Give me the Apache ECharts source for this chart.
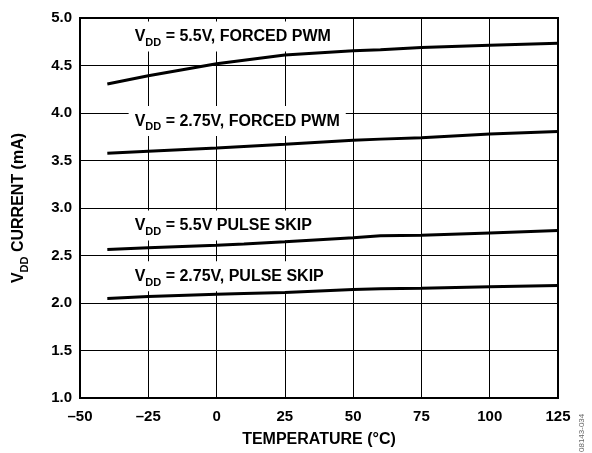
<!DOCTYPE html>
<html>
<head>
<meta charset="utf-8">
<script src="https://cdn.jsdelivr.net/npm/echarts@6/dist/echarts.min.js"></script>
<style>html,body{margin:0;padding:0;background:#fff;}#c{width:592px;height:453px;}</style>
</head>
<body>
<div id="c"></div>
<script>
var temperature = [-40, -25, 0, 10, 25, 50, 60, 75, 100, 125];
var pwm55 = [4.306, 4.393, 4.518, 4.555, 4.61, 4.655, 4.665, 4.69, 4.714, 4.735];
var pwm275 = [3.576, 3.597, 3.632, 3.647, 3.670, 3.712, 3.725, 3.740, 3.778, 3.806];
var skip55 = [2.563, 2.581, 2.609, 2.622, 2.644, 2.686, 2.707, 2.714, 2.738, 2.762];
var skip275 = [2.047, 2.068, 2.092, 2.100, 2.110, 2.141, 2.150, 2.155, 2.172, 2.185];
var seriesNames = ['VDD = 5.5V, FORCED PWM', 'VDD = 2.75V, FORCED PWM', 'VDD = 5.5V PULSE SKIP', 'VDD = 2.75V, PULSE SKIP'];
var labelTexts = [' = 5.5V, FORCED PWM', ' = 2.75V, FORCED PWM', ' = 5.5V PULSE SKIP', ' = 2.75V, PULSE SKIP'];
var labelAnchorX = [-30, -30, -30, -30];
var labelAnchorY = [4.815, 3.927, 2.827, 2.293];
var xTickLabels = {'-50': '\u201350', '-25': '\u201325', '0': '0', '25': '25', '50': '50', '75': '75', '100': '100', '125': '125'};
var yTickLabels = {'1': '1.0', '1.5': '1.5', '2': '2.0', '2.5': '2.5', '3': '3.0', '3.5': '3.5', '4': '4.0', '4.5': '4.5', '5': '5.0'};

var FONT = "'Liberation Sans', Arial, Helvetica, sans-serif";
function pairs(ys) { return temperature.map(function (t, i) { return [t, ys[i]]; }); }
var richStyle = {
  b: {fontSize: 16, fontWeight: 'bold', fontFamily: FONT, color: '#000'},
  s: {fontSize: 11, fontWeight: 'bold', fontFamily: FONT, color: '#000', padding: [12, 0, 0, 0]}
};
var chart = echarts.init(document.getElementById('c'), null, {renderer: 'canvas'});
var allY = [pwm55, pwm275, skip55, skip275];
var option = {
  animation: false,
  backgroundColor: '#fff',
  grid: {left: 80, right: 34, top: 18, bottom: 53, show: true, borderColor: '#000', borderWidth: 2},
  xAxis: {
    type: 'value', min: -50, max: 125, interval: 25,
    axisLine: {show: true, onZero: false, lineStyle: {color: '#000', width: 2}},
    axisTick: {show: false},
    splitLine: {show: true, lineStyle: {color: '#000', width: 1}},
    axisLabel: {margin: 11, color: '#000', fontSize: 15, fontWeight: 'bold', fontFamily: FONT,
      formatter: function (v) { return xTickLabels[String(v)]; }},
    name: 'TEMPERATURE (°C)', nameLocation: 'middle', nameGap: 34,
    nameTextStyle: {color: '#000', fontSize: 16, fontWeight: 'bold', fontFamily: FONT}
  },
  yAxis: {
    type: 'value', min: 1, max: 5, interval: 0.5,
    axisLine: {show: true, onZero: false, lineStyle: {color: '#000', width: 2}},
    axisTick: {show: false},
    splitLine: {show: true, lineStyle: {color: '#000', width: 1}},
    axisLabel: {margin: 8, color: '#000', fontSize: 15, fontWeight: 'bold', fontFamily: FONT,
      formatter: function (v) { return yTickLabels[String(v)]; }},
    name: '{b|V}{s|DD}{b| CURRENT (mA)}', nameLocation: 'middle', nameGap: 50, nameRotate: 90,
    nameTextStyle: {rich: richStyle}
  },
  series: allY.map(function (ys, i) {
    return {type: 'line', name: seriesNames[i], data: pairs(ys), showSymbol: false, symbol: 'none', smooth: false,
      lineStyle: {color: '#000', width: 3}, z: 10};
  })
};
chart.setOption(option);
var graphics = labelTexts.map(function (t, i) {
  var p = chart.convertToPixel({gridIndex: 0}, [labelAnchorX[i], labelAnchorY[i]]);
  return {type: 'text', left: p[0] - 6, top: p[1] - 14, z: 5,
    style: {text: '{b|V}{s|DD}{b|' + t + '}', rich: richStyle, backgroundColor: '#fff', padding: [4, 6, 3, 6]}};
});
graphics.push({type: 'text', x: 586, y: 452, rotation: Math.PI / 2, z: 5,
  style: {text: '08143-034', fontSize: 8, fontFamily: FONT, fill: '#666', textAlign: 'left', textVerticalAlign: 'bottom'}});
chart.setOption({graphic: graphics});
</script>
</body>
</html>
